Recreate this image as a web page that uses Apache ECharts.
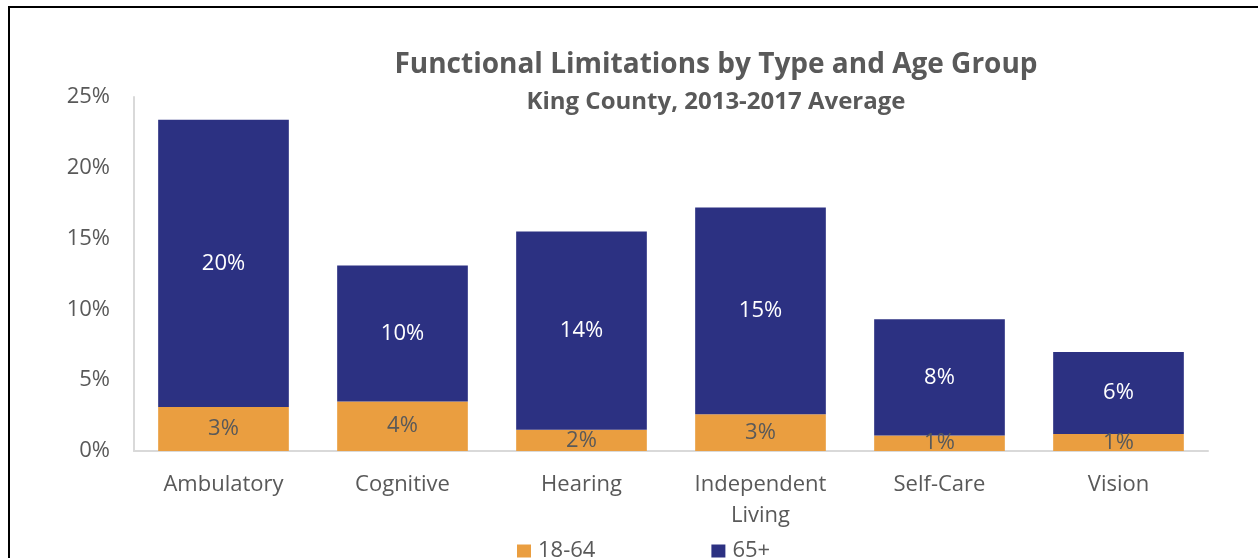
<!DOCTYPE html>
<html>
<head>
<meta charset="utf-8">
<script src="https://cdn.jsdelivr.net/npm/echarts@6/dist/echarts.min.js"></script>
<style>
  html, body { margin: 0; padding: 0; background: #fff; }
  #chart { position: absolute; left: 0; top: 0; width: 1258px; height: 558px; }
  .frame-top { position: absolute; left: 8px; top: 6px; width: 1250px; height: 2px; background: #000; }
  .frame-left { position: absolute; left: 8px; top: 6px; width: 2px; height: 552px; background: #000; }
</style>
</head>
<body>
<div id="chart"></div>
<div class="frame-top"></div>
<div class="frame-left"></div>
<script>
// Share of adults with each type of functional limitation, by age group (%)
const categories = ['Ambulatory', 'Cognitive', 'Hearing', 'Independent\nLiving', 'Self-Care', 'Vision'];
const age18to64 = [3.1, 3.5, 1.5, 2.6, 1.1, 1.2];
const age65plus = [20.3, 9.6, 14.0, 14.6, 8.2, 5.8];
const yTicks = [0, 5, 10, 15, 20, 25];

const FONT = '"Open Sans", "Noto Sans", sans-serif';
const GRAY = '#595959';

const chart = echarts.init(document.getElementById('chart'));
chart.setOption({
  backgroundColor: '#ffffff',
  textStyle: { fontFamily: FONT },
  title: {
    text: 'Functional Limitations by Type and Age Group',
    subtext: 'King County, 2013-2017 Average',
    left: 711,
    top: 46,
    textAlign: 'center',
    itemGap: 11,
    textStyle: { fontFamily: FONT, fontSize: 28, fontWeight: 'bold', color: GRAY },
    subtextStyle: { fontFamily: FONT, fontSize: 24, fontWeight: 'bold', color: GRAY }
  },
  legend: {
    data: ['18-64', '65+'],
    left: 512,
    top: 535,
    itemWidth: 14,
    itemHeight: 13,
    itemGap: 116,
    icon: 'rect',
    textStyle: { fontFamily: FONT, fontSize: 22, color: GRAY, padding: [0, 0, 0, 2] }
  },
  grid: { left: 134, right: 50, top: 97, bottom: 107 },
  xAxis: {
    type: 'category',
    data: categories,
    axisLine: { show: true, lineStyle: { color: '#d9d9d9', width: 2 } },
    axisTick: { show: false },
    axisLabel: { fontFamily: FONT, fontSize: 22, color: GRAY, margin: 18, lineHeight: 31, interval: 0 }
  },
  yAxis: {
    type: 'value',
    min: 0,
    max: 25,
    interval: 5,
    axisLine: { show: true, lineStyle: { color: '#d9d9d9', width: 2 } },
    axisTick: { show: false },
    splitLine: { show: false },
    axisLabel: {
      fontFamily: FONT, fontSize: 22, color: GRAY, margin: 24,
      formatter: v => (yTicks.includes(v) ? v + '%' : '')
    }
  },
  series: [
    {
      name: '18-64',
      type: 'bar',
      stack: 'total',
      barWidth: '73%',
      data: age18to64,
      itemStyle: { color: '#EA9E40' },
      label: {
        show: true, position: 'inside', fontFamily: FONT, fontSize: 22, color: GRAY,
        formatter: p => Math.round(p.value) + '%'
      }
    },
    {
      name: '65+',
      type: 'bar',
      stack: 'total',
      barWidth: '73%',
      data: age65plus,
      itemStyle: { color: '#2C3182' },
      label: {
        show: true, position: 'inside', fontFamily: FONT, fontSize: 22, fontWeight: 500, color: '#ffffff',
        formatter: p => Math.round(p.value) + '%'
      }
    }
  ]
});
</script>
</body>
</html>
